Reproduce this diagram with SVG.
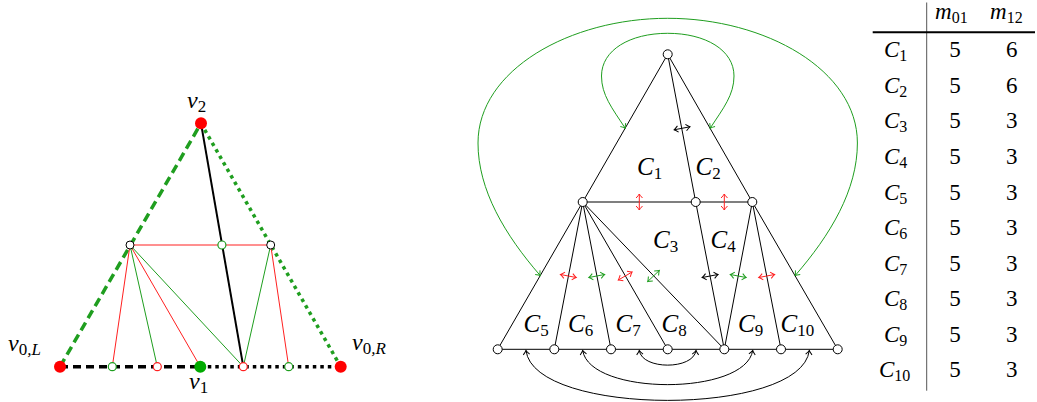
<svg xmlns="http://www.w3.org/2000/svg" width="1037" height="402" viewBox="0 0 1037 402">
<style>
.it{font-style:italic}
.sub{font-style:normal}
.blk{stroke:#000;stroke-width:1;fill:none}
.grn{stroke:#1f9e1f;stroke-width:1;fill:none}
.red{stroke:#ff2020;stroke-width:1;fill:none}
.wn{fill:#fff;stroke:#000;stroke-width:1}
.wg{fill:#fff;stroke:#1f9e1f;stroke-width:1.2}
.wr{fill:#fff;stroke:#ff2020;stroke-width:1.2}
.rd{fill:#ff0000}
</style>
<defs>
<marker id="ak" viewBox="-6 -5 8 10" markerWidth="8" markerHeight="10" refX="0" refY="0" orient="auto-start-reverse" markerUnits="userSpaceOnUse"><path d="M-4,-3.2 Q-1.2,-0.6 0,0 Q-1.2,0.6 -4,3.2" fill="none" stroke="#000" stroke-width="1"/></marker>
<marker id="ar" viewBox="-6 -5 8 10" markerWidth="8" markerHeight="10" refX="0" refY="0" orient="auto-start-reverse" markerUnits="userSpaceOnUse"><path d="M-4,-3.2 Q-1.2,-0.6 0,0 Q-1.2,0.6 -4,3.2" fill="none" stroke="#ff2020" stroke-width="1"/></marker>
<marker id="ag" viewBox="-6 -5 8 10" markerWidth="8" markerHeight="10" refX="0" refY="0" orient="auto-start-reverse" markerUnits="userSpaceOnUse"><path d="M-4,-3.2 Q-1.2,-0.6 0,0 Q-1.2,0.6 -4,3.2" fill="none" stroke="#1f9e1f" stroke-width="1"/></marker>
</defs>

<!-- LEFT FIGURE -->
<g id="left-connectors">
<line x1="60" y1="366.7" x2="201" y2="123.3" stroke="#1f9e1f" stroke-width="3.5" stroke-dasharray="9 5"/>
<line x1="201" y1="123.3" x2="340.7" y2="366.7" stroke="#1f9e1f" stroke-width="3.5" stroke-dasharray="3.5 4"/>
<line x1="60" y1="366.7" x2="200.3" y2="366.7" stroke="#000" stroke-width="3.5" stroke-dasharray="8 5"/>
<line x1="200.3" y1="366.7" x2="340.7" y2="366.7" stroke="#000" stroke-width="3.5" stroke-dasharray="3.5 4"/>
<line x1="201" y1="123.3" x2="243.3" y2="366.7" stroke="#000" stroke-width="2"/>
<line class="red" x1="130" y1="245" x2="270.7" y2="245"/>
<line class="red" x1="130" y1="245" x2="112.3" y2="366.7"/>
<line class="grn" x1="130" y1="245" x2="157.3" y2="366.7"/>
<line class="red" x1="130" y1="245" x2="200.3" y2="366.7"/>
<line class="grn" x1="130" y1="245" x2="243.3" y2="366.7"/>
<line class="grn" x1="270.7" y1="245" x2="243.3" y2="366.7"/>
<line class="red" x1="270.7" y1="245" x2="288.7" y2="366.7"/>
</g>
<g font-family="Liberation Serif, DejaVu Serif, serif">
<g id="v2"><circle class="rd" cx="201" cy="123.3" r="6"/><text class="it" x="187" y="108" font-size="24">v<tspan class="sub" font-size="17" dy="4">2</tspan></text></g>
<g id="v0L"><circle class="rd" cx="60" cy="366.7" r="6"/><text class="it" x="8" y="350.5" font-size="24">v<tspan class="sub" font-size="17" dy="4">0</tspan><tspan font-size="17">,L</tspan></text></g>
<g id="v0R"><circle class="rd" cx="340.7" cy="366.7" r="6"/><text class="it" x="352" y="350" font-size="24">v<tspan class="sub" font-size="17" dy="4">0</tspan><tspan font-size="17">,R</tspan></text></g>
<g id="v1"><circle cx="200.3" cy="366.7" r="6" fill="#00aa00"/><text class="it" x="189" y="389" font-size="24">v<tspan class="sub" font-size="17" dy="4">1</tspan></text></g>
</g>
<g id="left-small-nodes">
<circle class="wn" cx="130" cy="245" r="4"/>
<circle class="wn" cx="270.7" cy="245" r="4"/>
<circle class="wg" cx="221.9" cy="245" r="4"/>
<circle class="wg" cx="112.3" cy="366.7" r="4"/>
<circle class="wr" cx="157.3" cy="366.7" r="4"/>
<circle class="wr" cx="243.3" cy="366.7" r="4"/>
<circle class="wg" cx="288.7" cy="366.7" r="4"/>
</g>

<!-- MIDDLE FIGURE -->
<g id="mid-connectors">
<line class="blk" x1="667.7" y1="54.3" x2="582.7" y2="202"/>
<line class="blk" x1="667.7" y1="54.3" x2="752.3" y2="202"/>
<line class="blk" x1="667.7" y1="54.3" x2="695.7" y2="202"/>
<line x1="582.7" y1="202" x2="752.3" y2="202" stroke="#555" stroke-width="1.6"/>
<line class="blk" x1="582.7" y1="202" x2="497.7" y2="349.3"/>
<line class="blk" x1="582.7" y1="202" x2="554.3" y2="349.3"/>
<line class="blk" x1="582.7" y1="202" x2="611" y2="349.3"/>
<line class="blk" x1="582.7" y1="202" x2="667.7" y2="349.3"/>
<line class="blk" x1="582.7" y1="202" x2="724.3" y2="349.3"/>
<line class="blk" x1="695.7" y1="202" x2="724.3" y2="349.3"/>
<line class="blk" x1="752.3" y1="202" x2="724.3" y2="349.3"/>
<line class="blk" x1="752.3" y1="202" x2="781" y2="349.3"/>
<line class="blk" x1="752.3" y1="202" x2="837.7" y2="349.3"/>
<line class="blk" x1="497.7" y1="349.3" x2="837.7" y2="349.3"/>
<path class="grn" d="M625.2,128.2 C612,108 601.5,95 601.5,76 C601.5,50 630,33.3 667.7,33.3 C705.4,33.3 734,50 734,76 C734,95 723.4,108 710.2,128.2" marker-start="url(#ag)" marker-end="url(#ag)"/>
<path class="grn" d="M540.2,275.5 C505,235 478,190 478,143 C478,70 570,18.3 667.7,18.3 C765.4,18.3 857.4,70 857.4,143 C857.4,190 830.4,235 795.2,275.5" marker-start="url(#ag)" marker-end="url(#ag)"/>
<path class="blk" d="M639.3,350.5 C642,370 693.3,370 696,350.5" marker-start="url(#ak)" marker-end="url(#ak)"/>
<path class="blk" d="M582.7,350.5 C590,396 745.3,396 752.7,350.5" marker-start="url(#ak)" marker-end="url(#ak)"/>
<path class="blk" d="M526,350.5 C534,417 801.3,417 809.3,350.5" marker-start="url(#ak)" marker-end="url(#ak)"/>
<line class="blk" x1="674.1" y1="129.8" x2="689.9" y2="126.8" marker-start="url(#ak)" marker-end="url(#ak)"/>
<line class="red" x1="639.3" y1="194" x2="639.3" y2="210" marker-start="url(#ar)" marker-end="url(#ar)"/>
<line class="red" x1="724.3" y1="194" x2="724.3" y2="210" marker-start="url(#ar)" marker-end="url(#ar)"/>
<line class="red" x1="560.5" y1="274.5" x2="576.2" y2="277.5" marker-start="url(#ar)" marker-end="url(#ar)"/>
<line class="grn" x1="588.9" y1="277.5" x2="604.6" y2="274.5" marker-start="url(#ag)" marker-end="url(#ag)"/>
<line class="red" x1="618.3" y1="280" x2="632.1" y2="272" marker-start="url(#ar)" marker-end="url(#ar)"/>
<line class="grn" x1="647.7" y1="281.5" x2="659.3" y2="270.5" marker-start="url(#ag)" marker-end="url(#ag)"/>
<line class="blk" x1="702.2" y1="277.5" x2="718" y2="274.5" marker-start="url(#ak)" marker-end="url(#ak)"/>
<line class="grn" x1="730.3" y1="274.5" x2="746.1" y2="277.5" marker-start="url(#ag)" marker-end="url(#ag)"/>
<line class="red" x1="758.8" y1="277.5" x2="774.6" y2="274.5" marker-start="url(#ar)" marker-end="url(#ar)"/>
</g>
<g id="mid-nodes">
<circle class="wn" cx="667.7" cy="54.3" r="4.5"/>
<circle class="wn" cx="582.7" cy="202" r="4.5"/>
<circle class="wn" cx="695.7" cy="202" r="4.5"/>
<circle class="wn" cx="752.3" cy="202" r="4.5"/>
<circle class="wn" cx="497.7" cy="349.3" r="4.5"/>
<circle class="wn" cx="554.3" cy="349.3" r="4.5"/>
<circle class="wn" cx="611" cy="349.3" r="4.5"/>
<circle class="wn" cx="667.7" cy="349.3" r="4.5"/>
<circle class="wn" cx="724.3" cy="349.3" r="4.5"/>
<circle class="wn" cx="781" cy="349.3" r="4.5"/>
<circle class="wn" cx="837.7" cy="349.3" r="4.5"/>
</g>
<g id="cell-labels" font-size="25" font-family="Liberation Serif, DejaVu Serif, serif">
<text class="it" x="637" y="175">C<tspan class="sub" font-size="17" dy="4">1</tspan></text>
<text class="it" x="695.5" y="175">C<tspan class="sub" font-size="17" dy="4">2</tspan></text>
<text class="it" x="653" y="248">C<tspan class="sub" font-size="17" dy="4">3</tspan></text>
<text class="it" x="710.5" y="248">C<tspan class="sub" font-size="17" dy="4">4</tspan></text>
<text class="it" x="523.5" y="331.5">C<tspan class="sub" font-size="17" dy="4">5</tspan></text>
<text class="it" x="568" y="331.5">C<tspan class="sub" font-size="17" dy="4">6</tspan></text>
<text class="it" x="615.5" y="331.5">C<tspan class="sub" font-size="17" dy="4">7</tspan></text>
<text class="it" x="661.5" y="331.5">C<tspan class="sub" font-size="17" dy="4">8</tspan></text>
<text class="it" x="738" y="331.5">C<tspan class="sub" font-size="17" dy="4">9</tspan></text>
<text class="it" x="780.5" y="331.5">C<tspan class="sub" font-size="17" dy="4">10</tspan></text>
</g>

<!-- TABLE -->
<g id="table" font-family="Liberation Serif, DejaVu Serif, serif">
<line x1="926.7" y1="2.5" x2="926.7" y2="390.7" stroke="#555" stroke-width="1"/>
<line x1="872.7" y1="32.3" x2="1035" y2="32.3" stroke="#000" stroke-width="2"/>
<g font-size="23">
<text class="it" x="935" y="19">m<tspan class="sub" font-size="16" dy="3.5">01</tspan></text>
<text class="it" x="990" y="19">m<tspan class="sub" font-size="16" dy="3.5">12</tspan></text>
</g>
<g font-size="23">
<text class="it" x="884" y="57.3">C<tspan class="sub" font-size="16" dy="4">1</tspan></text>
<text class="it" x="884" y="92.9">C<tspan class="sub" font-size="16" dy="4">2</tspan></text>
<text class="it" x="884" y="128.4">C<tspan class="sub" font-size="16" dy="4">3</tspan></text>
<text class="it" x="884" y="164">C<tspan class="sub" font-size="16" dy="4">4</tspan></text>
<text class="it" x="884" y="199.5">C<tspan class="sub" font-size="16" dy="4">5</tspan></text>
<text class="it" x="884" y="235.1">C<tspan class="sub" font-size="16" dy="4">6</tspan></text>
<text class="it" x="884" y="270.7">C<tspan class="sub" font-size="16" dy="4">7</tspan></text>
<text class="it" x="884" y="306.2">C<tspan class="sub" font-size="16" dy="4">8</tspan></text>
<text class="it" x="884" y="341.8">C<tspan class="sub" font-size="16" dy="4">9</tspan></text>
<text class="it" x="879" y="377.3">C<tspan class="sub" font-size="16" dy="4">10</tspan></text>
</g>
<g font-size="23" text-anchor="middle">
<text x="955" y="57.3">5</text><text x="1011.7" y="57.3">6</text>
<text x="955" y="92.9">5</text><text x="1011.7" y="92.9">6</text>
<text x="955" y="128.4">5</text><text x="1011.7" y="128.4">3</text>
<text x="955" y="164">5</text><text x="1011.7" y="164">3</text>
<text x="955" y="199.5">5</text><text x="1011.7" y="199.5">3</text>
<text x="955" y="235.1">5</text><text x="1011.7" y="235.1">3</text>
<text x="955" y="270.7">5</text><text x="1011.7" y="270.7">3</text>
<text x="955" y="306.2">5</text><text x="1011.7" y="306.2">3</text>
<text x="955" y="341.8">5</text><text x="1011.7" y="341.8">3</text>
<text x="955" y="377.3">5</text><text x="1011.7" y="377.3">3</text>
</g>
</g>
</svg>
